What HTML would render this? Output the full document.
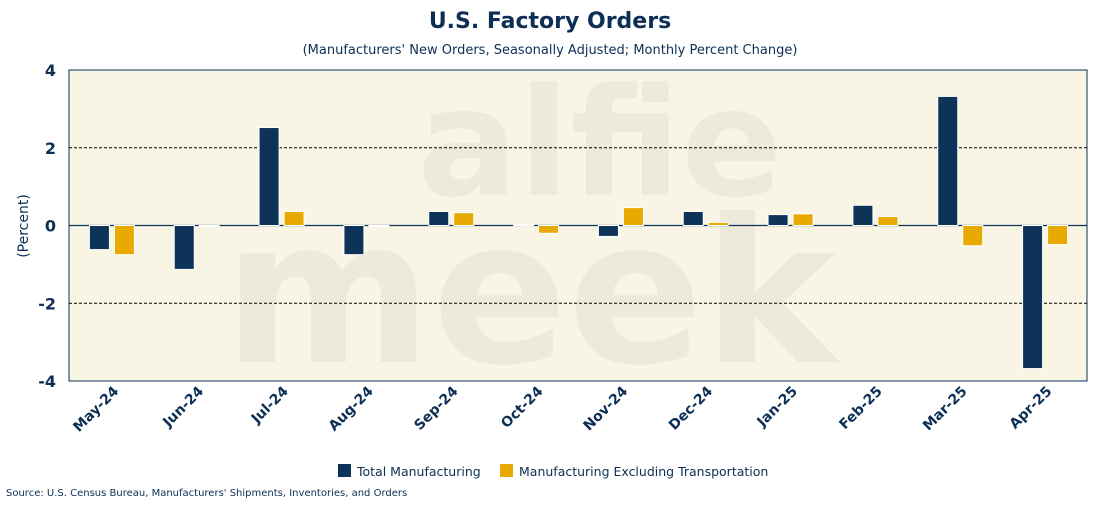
<!DOCTYPE html>
<html><head><meta charset="utf-8"><style>
body{margin:0;background:#fff;}
svg text{font-family:"DejaVu Sans","Liberation Sans",sans-serif;}
</style></head><body>
<svg id="chart" width="1100" height="500" xmlns="http://www.w3.org/2000/svg">
<text x="550" y="28" text-anchor="middle" font-size="22" font-weight="bold" fill="#0d2f55">U.S. Factory Orders</text>
<text x="550" y="54" text-anchor="middle" font-size="13" fill="#0d2f55">(Manufacturers' New Orders, Seasonally Adjusted; Monthly Percent Change)</text>
<rect x="69" y="70" width="1018" height="311" fill="#f8f5e4" stroke="#0d2f55" stroke-width="1"/>
<text x="600" y="195" text-anchor="middle" font-size="150" font-weight="bold" fill="#eeeada">alfie</text>
<text x="530" y="362" text-anchor="middle" font-size="200" font-weight="bold" fill="#eeeada">meek</text>
<g id="grid"></g><g id="bars"></g><g id="axes"></g>
<text transform="translate(28,226) rotate(-90)" text-anchor="middle" font-size="14" fill="#0d2f55">(Percent)</text>
<rect x="338" y="464" width="13" height="13" fill="#0d3358"/>
<text x="357" y="476" font-size="12.5" fill="#0d2f55">Total Manufacturing</text>
<rect x="500" y="464" width="13" height="13" fill="#e8a900"/>
<text x="519" y="476" font-size="12.5" fill="#0d2f55">Manufacturing Excluding Transportation</text>
<text x="6" y="496" font-size="10" fill="#0d2f55">Source: U.S. Census Bureau, Manufacturers' Shipments, Inventories, and Orders</text>
</svg>
<script>
const categories=["May-24","Jun-24","Jul-24","Aug-24","Sep-24","Oct-24","Nov-24","Dec-24","Jan-25","Feb-25","Mar-25","Apr-25"];
const totalValues=[-0.62,-1.13,2.52,-0.75,0.36,0.02,-0.28,0.36,0.28,0.52,3.32,-3.68];
const exTransValues=[-0.75,0.0,0.36,0.0,0.33,-0.2,0.46,0.08,0.3,0.23,-0.52,-0.49];
const yTicks=[-4,-2,0,2,4];
const NS="http://www.w3.org/2000/svg";
const X0=69,X1=1087,Y0=70,Y1=381,yMin=-4,yMax=4;
const y=v=>Y1-(v-yMin)/(yMax-yMin)*(Y1-Y0);
const bw=(X1-X0)/categories.length;
const xc=i=>X0+bw*(i+0.5);
function mk(t,a,p){const e=document.createElementNS(NS,t);for(const k in a)e.setAttribute(k,a[k]);p.appendChild(e);return e;}
const grid=document.getElementById('grid'),bars=document.getElementById('bars'),axes=document.getElementById('axes');
yTicks.forEach(t=>{
  if(t!==yMin&&t!==yMax&&t!==0){const l=mk('line',{x1:X0,x2:X1,y1:y(t),y2:y(t),stroke:'#000','stroke-dasharray':'3,2','stroke-width':1},grid);
  
  }
  const tx=mk('text',{x:56,y:y(t)+6,'text-anchor':'end','font-size':16,'font-weight':'bold',fill:'#0d2f55'},axes);
  tx.textContent=t;
  
  
});
const z=mk('line',{x1:X0,x2:X1,y1:y(0),y2:y(0),stroke:'#0d3358','stroke-width':1.2},grid);


categories.forEach((c,i)=>{
  [[totalValues[i],'#0d3358',-22,'bar-total-'],[exTransValues[i],'#e8a900',3,'bar-ex-transport-']].forEach(([v,col,off,nm])=>{
    const top=Math.min(y(v),y(0)),h=Math.max(Math.abs(y(v)-y(0)),1);
    const r=mk('rect',{x:xc(i)+off,y:top,width:20,height:h,fill:col,stroke:'#fff','stroke-width':1},bars);
    
    
  });
  const tx=mk('text',{transform:`translate(${xc(i)+8},${392}) rotate(-45)`,'text-anchor':'end','font-size':14,'font-weight':'bold',fill:'#0d2f55'},axes);
  tx.textContent=c;
  
  
});
</script>
</body></html>
